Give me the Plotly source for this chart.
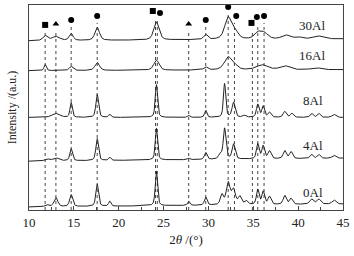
import numpy as np
import plotly.graph_objects as go

# sample names and their vertical offsets (a.u.)
samples = ["30Al", "16Al", "8Al", "4Al", "0Al"]
base_start = [171, 141, 94, 50, 4]
base_end = [173, 142, 94, 53, 7]

# peaks: (2theta, height, fwhm)
peaks = {
    "30Al": [(11.8, 5, 0.6), (13.0, 4, 1.0), (14.7, 7, 0.5), (17.6, 13, 0.6), (24.2, 18, 0.7),
             (29.7, 5, 0.5), (32.2, 22, 0.9), (33.0, 7, 0.8), (35.5, 6, 0.9), (36.2, 6, 1.0),
             (38.6, 4, 1.0), (40.0, 2, 1.0), (42.2, 3, 1.2)],
    "16Al": [(11.8, 6, 0.3), (14.7, 4, 0.5), (17.6, 8, 0.6), (24.2, 10, 0.7), (29.7, 3, 0.5),
             (32.2, 13, 1.0), (33.0, 3, 0.8), (36.0, 5, 1.5), (38.5, 4, 1.2), (42.0, 2, 1.2)],
    "8Al": [(13.0, 4, 1.0), (14.7, 15, 0.3), (17.6, 23, 0.35), (19.0, 3, 0.3), (24.2, 33, 0.3),
            (27.8, 2, 0.3), (29.7, 7, 0.3), (31.8, 34, 0.3), (32.8, 15, 0.4), (34.0, 2, 0.4),
            (35.5, 13, 0.35), (36.1, 11, 0.35), (36.8, 5, 0.4), (38.5, 6, 0.4), (39.3, 4, 0.4),
            (41.5, 4, 0.4), (42.3, 4, 0.4), (44.0, 3, 0.5)],
    "4Al": [(12.0, 2, 0.6), (13.0, 3, 0.8), (14.7, 12, 0.35), (17.6, 22, 0.35), (19.0, 3, 0.3),
            (24.2, 32, 0.3), (27.8, 1.5, 0.3), (29.7, 7, 0.35), (31.3, 5, 0.4), (31.8, 31, 0.35),
            (32.8, 15, 0.4), (35.5, 15, 0.35), (36.1, 13, 0.35), (36.8, 8, 0.4), (38.5, 8, 0.4),
            (39.2, 7, 0.4), (41.5, 4, 0.4), (42.3, 4, 0.4), (44.0, 3, 0.5)],
    "0Al": [(12.0, 2, 0.5), (13.0, 9, 0.5), (14.7, 12, 0.4), (17.6, 22, 0.35), (19.0, 5, 0.3),
            (24.2, 35, 0.3), (27.8, 4, 0.3), (29.7, 8, 0.35), (31.5, 10, 0.4), (32.2, 22, 0.5),
            (32.8, 15, 0.5), (33.5, 8, 0.4), (34.2, 4, 0.4), (35.5, 15, 0.35), (36.1, 13, 0.35),
            (36.8, 8, 0.4), (38.5, 9, 0.4), (39.2, 6, 0.4), (41.5, 5, 0.5), (42.3, 5, 0.5),
            (44.0, 4, 0.5)],
}

# reference line positions and markers
line_x = [11.8, 13.0, 14.7, 17.6, 24.1, 24.3, 27.8, 29.7, 32.2, 32.9, 34.9, 35.5, 36.2]
line_top = [180, 181, 185, 189, 194, 192, 181, 185, 198, 189, 182, 188, 189]
mark_x = [11.8, 13.0, 14.7, 17.6, 23.8, 24.6, 27.8, 29.7, 32.2, 33.1, 34.8, 35.4, 36.2]
mark_y = [187, 188, 192, 196, 201, 199, 188, 192, 205, 196, 189, 195, 196]
mark_sym = ["square", "triangle-up", "circle", "circle", "square", "circle", "triangle-up",
            "circle", "circle", "circle", "square", "circle", "circle"]

label_x = [41.5, 41.5, 41.7, 41.7, 41.7]
label_y = [186, 156, 111, 66, 19]

x = np.linspace(10, 45, 1400)


def profile(p):
    pos, h, w = p
    g = np.exp(-4 * np.log(2) * ((x - pos) / w) ** 2)
    lz = 1 / (1 + 4 * ((x - pos) / w) ** 2)
    return h * (0.5 * g + 0.5 * lz)


fig = go.Figure()
for i, s in enumerate(samples):
    y = base_start[i] + (base_end[i] - base_start[i]) * (x - 10) / 35
    for p in peaks[s]:
        y = y + profile(p)
    fig.add_trace(go.Scatter(x=x, y=y, mode="lines", line=dict(color="#222", width=1),
                             showlegend=False, hoverinfo="skip"))

for lx, lt in zip(line_x, line_top):
    fig.add_shape(type="line", x0=lx, x1=lx, y0=1, y1=lt, xref="x", yref="y",
                  line=dict(color="#444", width=1, dash="dot"), layer="below")

fig.add_trace(go.Scatter(x=mark_x, y=mark_y, mode="markers",
                         marker=dict(symbol=mark_sym, size=6, color="black"),
                         showlegend=False, hoverinfo="skip"))

for s, lx, ly in zip(samples, label_x, label_y):
    fig.add_annotation(x=lx, y=ly, text=s, showarrow=False, xanchor="center",
                       font=dict(family="Liberation Serif", size=13, color="#222"))

fig.update_layout(
    width=354, height=256,
    margin=dict(l=29, r=9, t=4, b=46),
    paper_bgcolor="white", plot_bgcolor="white",
    font=dict(family="Liberation Serif", size=13, color="#222"),
    xaxis=dict(range=[10, 45], dtick=5, tick0=10, ticks="inside", ticklen=4,
               showline=True, linecolor="#444", linewidth=1, mirror=True,
               showgrid=False, zeroline=False, ticklabeloverflow="allow",
               minor=dict(ticks="inside", dtick=2.5, ticklen=3, tickcolor="#444"),
               title=dict(text="2<i>θ</i> /(°)", standoff=6, font=dict(size=13))),
    yaxis=dict(range=[1, 207], showticklabels=False, ticks="",
               showline=True, linecolor="#444", linewidth=1, mirror=True,
               showgrid=False, zeroline=False,
               title=dict(text="Intensity /(a.u.)", standoff=8, font=dict(size=12))),
)

fig.write_html("out.html", config={"displayModeBar": False},
               post_script="document.body.style.margin='0';document.body.style.overflow='hidden';")
